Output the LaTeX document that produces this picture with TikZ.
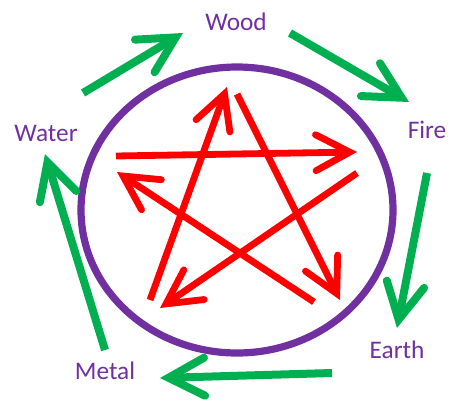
\documentclass[tikz,border=0pt]{standalone}
\usepackage{fontspec}
\setmainfont{Carlito}
\usepackage{tikz}
\usetikzlibrary{arrows.meta}
\pgfdeclarelayer{bg}
\pgfsetlayers{bg,main}
\definecolor{phase}{HTML}{7030A0}
\definecolor{feed}{HTML}{00B050}
\definecolor{curb}{HTML}{FF0000}

\begin{document}
\begin{tikzpicture}[
        every node/.style={text=phase, inner sep=0pt, font=\fontsize{18}{20}\selectfont},
        feeds/.style={draw=feed, line width=0.2cm,
                -{Straight Barb[length=0.9cm, width=0.95cm, line cap=round, line join=miter]}},
        curbs/.style={draw=curb, line width=0.17cm,
                -{Straight Barb[length=0.85cm, width=0.9cm, line cap=round, line join=miter]}}]
        \useasboundingbox (0cm, 0cm) rectangle (11.675cm, 10.150cm);
        \node (wood) at (5.900000cm, 9.600000cm) {Wood};
        \node (fire) at (10.675000cm, 6.900000cm) {Fire};
        \node (earth) at (9.925000cm, 1.400000cm) {Earth};
        \node (metal) at (2.625000cm, 0.875000cm) {Metal};
        \node (water) at (1.150000cm, 6.825000cm) {Water};
        % generating cycle
        \coordinate (g0) at (2.075000cm, 7.825000cm);
        \coordinate (h0) at (4.575000cm, 9.325000cm);
        \coordinate (g1) at (7.250000cm, 9.325000cm);
        \coordinate (h1) at (10.225000cm, 7.600000cm);
        \coordinate (g2) at (10.675000cm, 5.825000cm);
        \coordinate (h2) at (9.925000cm, 1.950000cm);
        \coordinate (g3) at (8.300000cm, 0.825000cm);
        \coordinate (h3) at (4.000000cm, 0.700000cm);
        \coordinate (g4) at (2.625000cm, 1.400000cm);
        \coordinate (h4) at (1.125000cm, 6.300000cm);
        % overcoming star
        \coordinate (s0) at (2.900000cm, 6.250000cm);
        \coordinate (t0) at (8.925000cm, 6.350000cm);
        \coordinate (s1) at (8.925000cm, 5.825000cm);
        \coordinate (t1) at (4.000000cm, 2.450000cm);
        \coordinate (s2) at (7.850000cm, 2.600000cm);
        \coordinate (t2) at (2.925000cm, 5.850000cm);
        \coordinate (s3) at (3.750000cm, 2.650000cm);
        \coordinate (t3) at (5.675000cm, 7.975000cm);
        \coordinate (s4) at (5.925000cm, 7.800000cm);
        \coordinate (t4) at (8.500000cm, 2.650000cm);
        \begin{pgfonlayer}{bg}
                \draw [phase, line width=0.18cm] (5.925000cm, 4.900000cm) ellipse [x radius=3.9cm, y radius=3.575cm];
                \draw (g0) edge [feeds] (h0);
                \draw (g1) edge [feeds] (h1);
                \draw (g2) edge [feeds] (h2);
                \draw (g3) edge [feeds] (h3);
                \draw (g4) edge [feeds] (h4);
                \draw (s0) edge [curbs] (t0);
                \draw (s1) edge [curbs] (t1);
                \draw (s2) edge [curbs] (t2);
                \draw (s3) edge [curbs] (t3);
                \draw (s4) edge [curbs] (t4);
        \end{pgfonlayer}
\end{tikzpicture}
\end{document}
